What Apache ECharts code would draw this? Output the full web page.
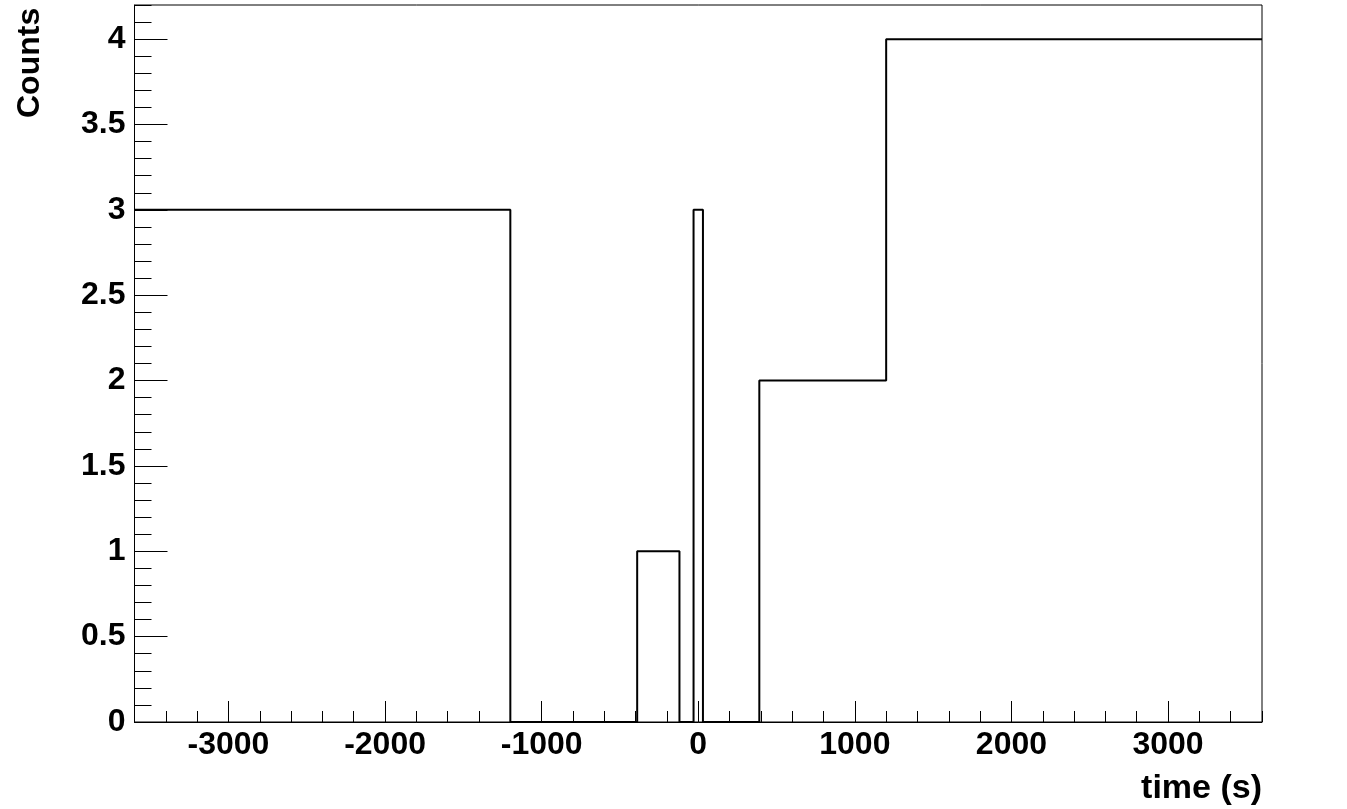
<!DOCTYPE html>
<html>
<head>
<meta charset="utf-8">
<script src="https://cdn.jsdelivr.net/npm/echarts@6/dist/echarts.min.js"></script>
<style>
html,body{margin:0;padding:0;background:#fff;}
#chart{width:1347px;height:809px;}
</style>
</head>
<body>
<div id="chart"></div>
<script>
// Histogram bin edges (s) and counts per bin
const binEdges = [-3600, -1200, -390, -120, -30, 30, 390, 1200, 3600];
const binCounts = [3, 0, 1, 0, 3, 0, 2, 4];
// Tick values
const xMajorTicks = [-3000, -2000, -1000, 0, 1000, 2000, 3000];
const yMajorTicks = [0, 0.5, 1, 1.5, 2, 2.5, 3, 3.5, 4];
const xRange = [-3600, 3600];
const yRange = [0, 4.2];
const xTitle = 'time (s)';
const yTitle = 'Counts';

// outline of the histogram
const outline = [];
for (let i = 0; i < binCounts.length; i++) {
  outline.push([binEdges[i], binCounts[i]]);
  outline.push([binEdges[i + 1], binCounts[i]]);
}
const xMinor = [];
for (let v = xRange[0]; v <= xRange[1] + 1e-9; v += 200) xMinor.push(v);
const yMinor = [];
for (let k = 0; k <= 42; k++) yMinor.push(+(k / 10).toFixed(1));

const font = '"Liberation Sans", Arial, Helvetica, sans-serif';
const labelStyle = {color: '#000', fontFamily: font, fontWeight: 'bold', fontSize: 32};

const chart = echarts.init(document.getElementById('chart'), null, {renderer: 'canvas'});
chart.setOption({
  animation: false,
  backgroundColor: '#fff',
  grid: {left: 134.5, right: 85, top: 5, bottom: 87, show: true, borderColor: '#000', borderWidth: 1, backgroundColor: 'transparent'},
  xAxis: [
    {
      type: 'value', min: xRange[0], max: xRange[1], position: 'bottom',
      axisLine: {show: true, onZero: false, lineStyle: {color: '#000', width: 1}},
      axisTick: {show: true, inside: true, length: 21, customValues: xMajorTicks, lineStyle: {color: '#000', width: 1}},
      axisLabel: {show: true, customValues: xMajorTicks, margin: 7, formatter: v => String(v), ...labelStyle},
      splitLine: {show: false}
    },
    {
      type: 'value', min: xRange[0], max: xRange[1], position: 'bottom', gridIndex: 0,
      axisLine: {show: false, onZero: false},
      axisTick: {show: true, inside: true, length: 11, customValues: xMinor, lineStyle: {color: '#000', width: 1}},
      axisLabel: {show: false},
      splitLine: {show: false}
    }
  ],
  yAxis: [
    {
      type: 'value', min: yRange[0], max: yRange[1], position: 'left',
      axisLine: {show: true, onZero: false, lineStyle: {color: '#000', width: 1}},
      axisTick: {show: true, inside: true, length: 33, customValues: yMajorTicks, lineStyle: {color: '#000', width: 1}},
      axisLabel: {show: true, customValues: yMajorTicks, margin: 9, formatter: v => String(v), ...labelStyle},
      splitLine: {show: false}
    },
    {
      type: 'value', min: yRange[0], max: yRange[1], position: 'left', gridIndex: 0,
      axisLine: {show: false, onZero: false},
      axisTick: {show: true, inside: true, length: 17, customValues: yMinor, lineStyle: {color: '#000', width: 1}},
      axisLabel: {show: false},
      splitLine: {show: false}
    }
  ],
  series: [{
    type: 'line',
    xAxisIndex: 0, yAxisIndex: 0,
    data: outline,
    showSymbol: false,
    symbol: 'none',
    clip: false,
    lineStyle: {color: '#000', width: 2},
    z: 5
  }],
  graphic: [
    {type: 'text', x: 1262, y: 772, style: {text: xTitle, fill: '#000', font: 'bold 34px ' + font, textAlign: 'right', textVerticalAlign: 'top'}, z: 10},
    {type: 'text', x: 14, y: 118, rotation: Math.PI / 2, style: {text: yTitle, fill: '#000', font: 'bold 32px ' + font, textAlign: 'left', textVerticalAlign: 'top'}, z: 10}
  ]
});
</script>
</body>
</html>
